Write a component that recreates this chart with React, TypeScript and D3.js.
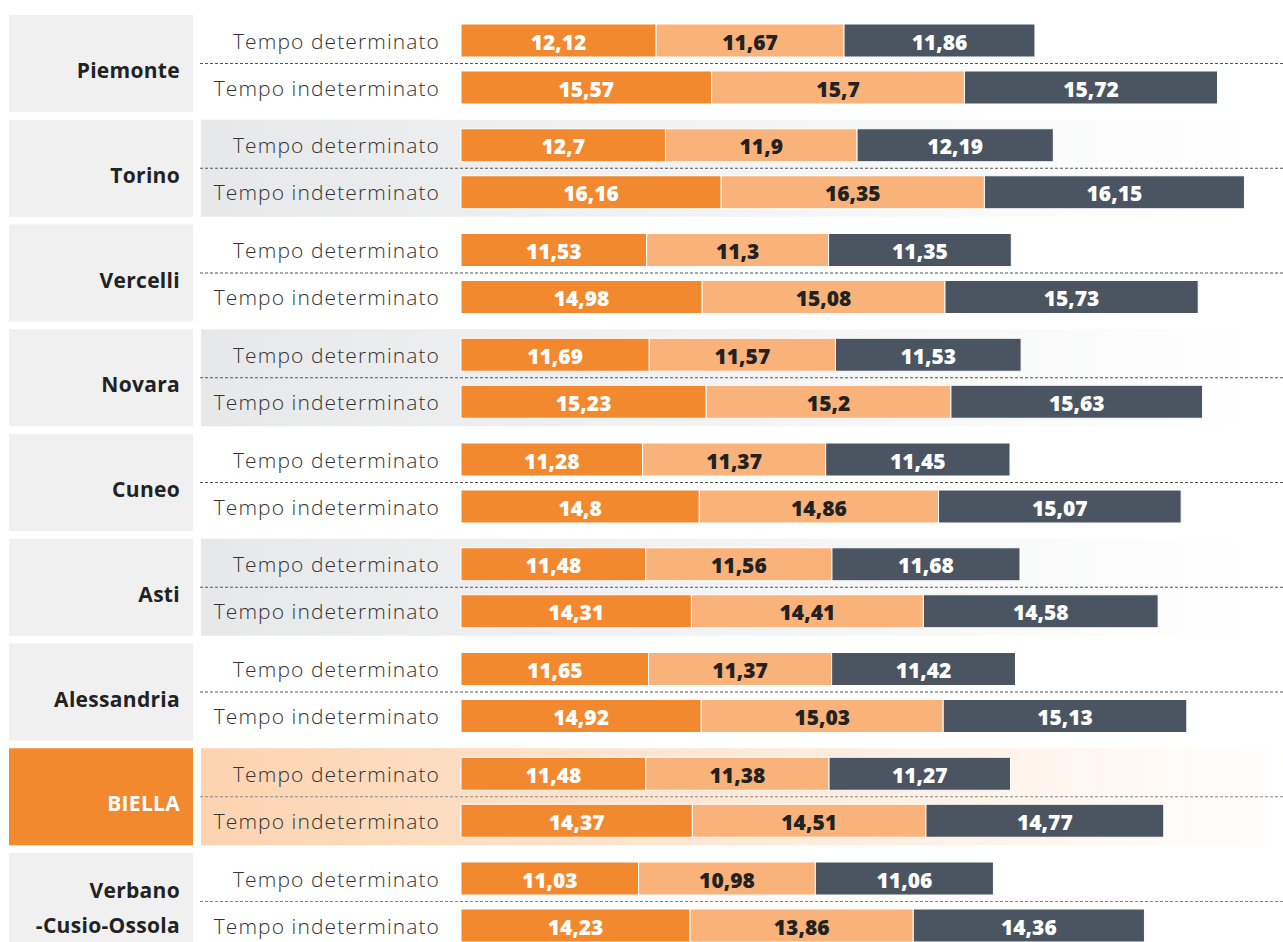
import React from 'react';
import * as d3 from 'd3';

const regions = ['Piemonte', 'Torino', 'Vercelli', 'Novara', 'Cuneo', 'Asti', 'Alessandria', 'BIELLA', 'Verbano\n-Cusio-Ossola'];
const rowLabels = ['Tempo determinato', 'Tempo indeterminato'];

// tempo determinato: three segments
const det1 = [12.12, 12.7, 11.53, 11.69, 11.28, 11.48, 11.65, 11.48, 11.03];
const det2 = [11.67, 11.9, 11.3, 11.57, 11.37, 11.56, 11.37, 11.38, 10.98];
const det3 = [11.86, 12.19, 11.35, 11.53, 11.45, 11.68, 11.42, 11.27, 11.06];
// tempo indeterminato
const ind1 = [15.57, 16.16, 14.98, 15.23, 14.8, 14.31, 14.92, 14.37, 14.23];
const ind2 = [15.7, 16.35, 15.08, 15.2, 14.86, 14.41, 15.03, 14.51, 13.86];
const ind3 = [15.72, 16.15, 15.73, 15.63, 15.07, 14.58, 15.13, 14.77, 14.36];

const shaded = ['Torino', 'Novara', 'Asti'];
const highlighted = ['BIELLA'];

const W = 1283;
const H = 942;
const segColors = ['#F3892E', '#F9B37A', '#4A5561'];
const segText = ['#ffffff', '#222222', '#ffffff'];

const fmt = (v: number) => String(v).replace('.', ',');

const App: React.FC = () => {
  const x = d3.scaleLinear().domain([0, 50]).range([461, 461 + 805]);
  const y = d3.scaleBand<string>()
    .domain(regions)
    .range([15, 15 + 9 * 104.75 - 7.75])
    .paddingInner(0.074)
    .paddingOuter(0);
  const bh = y.bandwidth();

  const stack = d3.stack<number[]>().keys(['0', '1', '2']).value((d, k) => d[+k]);

  return (
    <svg width={W} height={H} style={{ position: 'absolute', left: 0, top: 0, background: '#fff' }}>
      <defs>
        <linearGradient id="grayBg" x1="0" x2="1" y1="0" y2="0">
          <stop offset="0" stopColor="#E7E8EA" />
          <stop offset="1" stopColor="#ffffff" />
        </linearGradient>
        <linearGradient id="peachBg" x1="0" x2="1" y1="0" y2="0">
          <stop offset="0" stopColor="#FCD3B0" />
          <stop offset="1" stopColor="#ffffff" />
        </linearGradient>
      </defs>
      {regions.map((r, i) => {
        const gy = y(r) as number;
        const hi = highlighted.includes(r);
        const rows = [
          [det1[i], det2[i], det3[i]],
          [ind1[i], ind2[i], ind3[i]],
        ];
        const series = stack(rows);
        const rowTop = [gy + 9, gy + 56];
        const barH = 33;
        const lines = r.split('\n');
        return (
          <g key={r}>
            <rect x={9} y={gy} width={184} height={bh} fill={hi ? '#F3892E' : '#EFF0EF'} />
            {shaded.includes(r) && <rect x={201} y={gy} width={1060} height={bh} fill="url(#grayBg)" />}
            {hi && <rect x={201} y={gy} width={1082} height={bh} fill="url(#peachBg)" />}
            {lines.map((t, j) => (
              <text
                key={t}
                x={180}
                y={lines.length === 1 ? gy + 55 : gy + 37 + j * 35}
                textAnchor="end"
                dominantBaseline="central"
                fontFamily="'Open Sans', sans-serif"
                fontWeight={700}
                fontSize={21}
                letterSpacing={0.3}
                fill={hi ? '#ffffff' : '#222'}
              >
                {t}
              </text>
            ))}
            <line x1={200} x2={W} y1={gy + 48.5} y2={gy + 48.5} stroke={hi || i === 8 ? '#888' : '#555'} strokeWidth={1} strokeDasharray="3,2" />
            {rowLabels.map((lbl, k) => (
              <text
                key={lbl}
                x={440}
                y={rowTop[k] + barH / 2}
                textAnchor="end"
                dominantBaseline="central"
                fontFamily="'Open Sans', sans-serif"
                fontWeight={300}
                fontSize={21}
                letterSpacing={1.1}
                fill="#333"
              >
                {lbl}
              </text>
            ))}
            {series.map((s, si) =>
              s.map((d, k) => (
                <g key={`${si}-${k}`}>
                  <rect
                    x={x(d[0])}
                    y={rowTop[k]}
                    width={x(d[1]) - x(d[0])}
                    height={barH}
                    fill={segColors[si]}
                    stroke="#fff"
                    strokeWidth={1}
                  />
                  <text
                    x={(x(d[0]) + x(d[1])) / 2}
                    y={rowTop[k] + barH / 2 + 1}
                    textAnchor="middle"
                    dominantBaseline="central"
                    fontFamily="'Open Sans', sans-serif"
                    fontWeight={800}
                    fontSize={21}
                    fill={segText[si]}
                  >
                    {fmt(rows[k][si])}
                  </text>
                </g>
              ))
            )}
          </g>
        );
      })}
    </svg>
  );
};

export default App;
